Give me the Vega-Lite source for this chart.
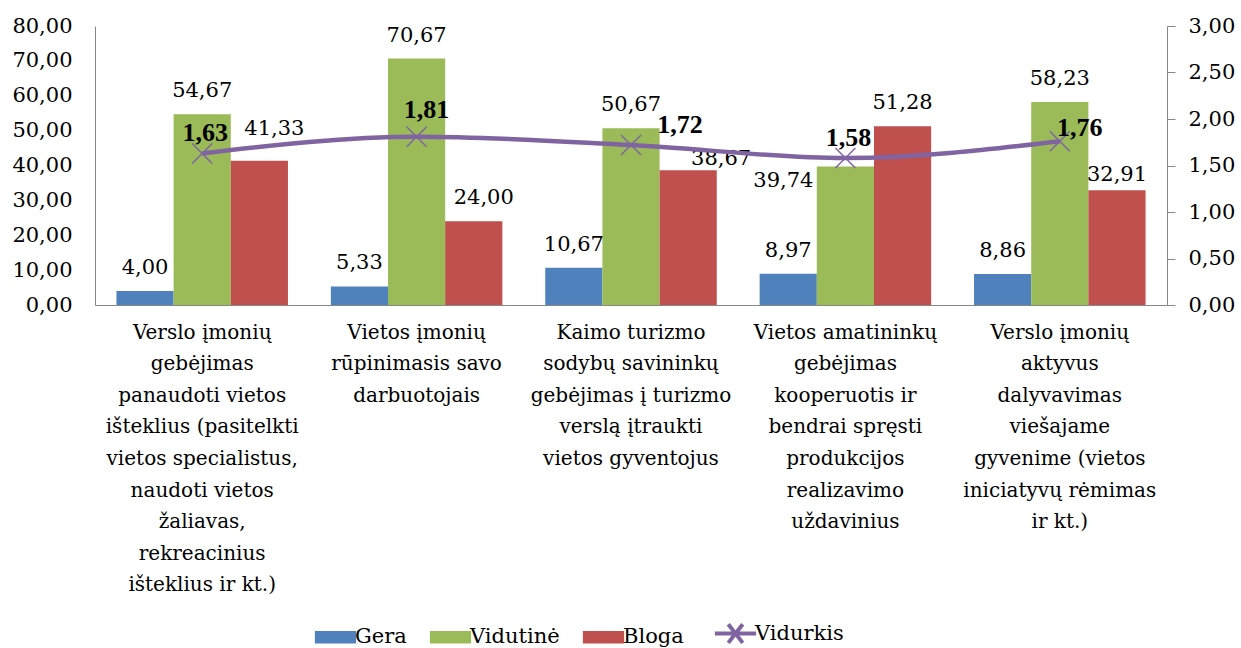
{
  "$schema": "https://vega.github.io/schema/vega-lite/v6.json",
  "width": 1072,
  "height": 279,
  "autosize": {"type": "none"},
  "padding": {"left": 95, "top": 26, "right": 74, "bottom": 343},
  "background": "white",
  "config": {
    "font": "DejaVu Serif",
    "view": {"stroke": null},
    "locale": {"number": {"decimal": ",", "thousands": " ", "grouping": [3], "currency": ["", " €"]}},
    "axis": {"labelFont": "DejaVu Serif", "labelFontSize": 21, "labelColor": "black", "domainColor": "#868686", "tickColor": "#868686", "grid": false, "title": null, "labelOverlap": false}
  },
  "datasets": {
    "bars": [
      {"category": "Verslo įmonių\ngebėjimas\npanaudoti vietos\ništeklius (pasitelkti\nvietos specialistus,\nnaudoti vietos\nžaliavas,\nrekreacinius\ništeklius ir kt.)", "series": "Gera", "value": 4.00},
      {"category": "Verslo įmonių\ngebėjimas\npanaudoti vietos\ništeklius (pasitelkti\nvietos specialistus,\nnaudoti vietos\nžaliavas,\nrekreacinius\ništeklius ir kt.)", "series": "Vidutinė", "value": 54.67},
      {"category": "Verslo įmonių\ngebėjimas\npanaudoti vietos\ništeklius (pasitelkti\nvietos specialistus,\nnaudoti vietos\nžaliavas,\nrekreacinius\ništeklius ir kt.)", "series": "Bloga", "value": 41.33},
      {"category": "Vietos įmonių\nrūpinimasis savo\ndarbuotojais", "series": "Gera", "value": 5.33},
      {"category": "Vietos įmonių\nrūpinimasis savo\ndarbuotojais", "series": "Vidutinė", "value": 70.67},
      {"category": "Vietos įmonių\nrūpinimasis savo\ndarbuotojais", "series": "Bloga", "value": 24.00},
      {"category": "Kaimo turizmo\nsodybų savininkų\ngebėjimas į turizmo\nverslą įtraukti\nvietos gyventojus", "series": "Gera", "value": 10.67},
      {"category": "Kaimo turizmo\nsodybų savininkų\ngebėjimas į turizmo\nverslą įtraukti\nvietos gyventojus", "series": "Vidutinė", "value": 50.67},
      {"category": "Kaimo turizmo\nsodybų savininkų\ngebėjimas į turizmo\nverslą įtraukti\nvietos gyventojus", "series": "Bloga", "value": 38.67},
      {"category": "Vietos amatininkų\ngebėjimas\nkooperuotis ir\nbendrai spręsti\nprodukcijos\nrealizavimo\nuždavinius", "series": "Gera", "value": 8.97},
      {"category": "Vietos amatininkų\ngebėjimas\nkooperuotis ir\nbendrai spręsti\nprodukcijos\nrealizavimo\nuždavinius", "series": "Vidutinė", "value": 39.74},
      {"category": "Vietos amatininkų\ngebėjimas\nkooperuotis ir\nbendrai spręsti\nprodukcijos\nrealizavimo\nuždavinius", "series": "Bloga", "value": 51.28},
      {"category": "Verslo įmonių\naktyvus\ndalyvavimas\nviešajame\ngyvenime (vietos\niniciatyvų rėmimas\nir kt.)", "series": "Gera", "value": 8.86},
      {"category": "Verslo įmonių\naktyvus\ndalyvavimas\nviešajame\ngyvenime (vietos\niniciatyvų rėmimas\nir kt.)", "series": "Vidutinė", "value": 58.23},
      {"category": "Verslo įmonių\naktyvus\ndalyvavimas\nviešajame\ngyvenime (vietos\niniciatyvų rėmimas\nir kt.)", "series": "Bloga", "value": 32.91}
    ],
    "avg": [
      {"category": "Verslo įmonių\ngebėjimas\npanaudoti vietos\ništeklius (pasitelkti\nvietos specialistus,\nnaudoti vietos\nžaliavas,\nrekreacinius\ništeklius ir kt.)", "series": "Vidurkis", "value": 1.63},
      {"category": "Vietos įmonių\nrūpinimasis savo\ndarbuotojais", "series": "Vidurkis", "value": 1.81},
      {"category": "Kaimo turizmo\nsodybų savininkų\ngebėjimas į turizmo\nverslą įtraukti\nvietos gyventojus", "series": "Vidurkis", "value": 1.72},
      {"category": "Vietos amatininkų\ngebėjimas\nkooperuotis ir\nbendrai spręsti\nprodukcijos\nrealizavimo\nuždavinius", "series": "Vidurkis", "value": 1.58},
      {"category": "Verslo įmonių\naktyvus\ndalyvavimas\nviešajame\ngyvenime (vietos\niniciatyvų rėmimas\nir kt.)", "series": "Vidurkis", "value": 1.76}
    ]
  },
  "layer": [
    {
      "data": {"name": "bars"},
      "layer": [
        {
          "mark": {"type": "bar"},
          "encoding": {
            "x": {"field": "category", "type": "nominal", "sort": null,
              "scale": {"paddingInner": 0.2, "paddingOuter": 0.1},
              "axis": {"labelAngle": 0, "ticks": false, "tickSize": 0, "labelPadding": 17, "labelLimit": 0, "labelFontSize": 20, "labelLineHeight": 31.6, "labelBaseline": "top", "labelFont": "DejaVu Serif", "labelExpr": "split(datum.label, '\\n')"}},
            "xOffset": {"field": "series", "type": "nominal", "sort": ["Gera", "Vidutinė", "Bloga"], "scale": {"domain": ["Gera", "Vidutinė", "Bloga"], "paddingInner": 0, "paddingOuter": 0}},
            "y": {"field": "value", "type": "quantitative",
              "scale": {"domain": [0, 80], "nice": false},
              "axis": {"orient": "left", "values": [0, 10, 20, 30, 40, 50, 60, 70, 80], "tickCount": 9, "format": ".2f", "ticks": false, "tickSize": 0, "labelPadding": 23, "labelFont": "DejaVu Serif", "labelOverlap": false}},
            "color": {"field": "series", "type": "nominal",
              "scale": {"domain": ["Gera", "Vidutinė", "Bloga", "Vidurkis"], "range": ["#4F81BD", "#9BBB59", "#C0504D", "#8064A2"]},
              "legend": {
                "orient": "none", "legendX": 230, "legendY": 597, "direction": "horizontal", "columns": 4, "title": null,
                "labelFont": "DejaVu Serif", "labelFontSize": 21, "labelColor": "black",
                "symbolSize": 1700, "labelOffset": 9, "columnPadding": 22,
                "symbolType": "M-1,-0.3H1V0.3H-1Z",
                "encode": {"symbols": {"update": {
                  "shape": {"signal": "datum.value === 'Vidurkis' ? 'M-1,0H1M-0.35,-0.45L0.35,0.45M-0.35,0.45L0.35,-0.45' : 'M-1,-0.3H1V0.3H-1Z'"},
                  "fill": {"signal": "datum.value === 'Vidurkis' ? 'transparent' : scale('color', datum.value)"},
                  "stroke": {"signal": "datum.value === 'Vidurkis' ? '#8064A2' : 'transparent'"},
                  "strokeWidth": {"signal": "datum.value === 'Vidurkis' ? 4 : 0"},
                  "opacity": {"value": 1}
                }}}
              }}
          }
        },
        {
          "mark": {"type": "text", "font": "DejaVu Serif", "fontSize": 21, "color": "black", "baseline": "middle",
            "dx": {"expr": "datum.value === 41.33 ? 15 : datum.value === 38.67 ? 33 : datum.value === 39.74 ? -62 : datum.value === 24 ? 10 : 0"},
            "dy": {"expr": "datum.value === 41.33 ? -32 : datum.value === 38.67 ? -11 : datum.value === 39.74 ? 15 : datum.value === 32.91 ? -15 : -23"}},
          "encoding": {
            "x": {"field": "category", "type": "nominal", "sort": null},
            "xOffset": {"field": "series", "type": "nominal", "sort": ["Gera", "Vidutinė", "Bloga"]},
            "y": {"field": "value", "type": "quantitative",
              "axis": {"orient": "left", "values": [0, 10, 20, 30, 40, 50, 60, 70, 80], "tickCount": 9, "format": ".2f", "ticks": false, "tickSize": 0, "labelPadding": 23, "labelFont": "DejaVu Serif", "labelOverlap": false}},
            "text": {"field": "value", "type": "quantitative", "format": ".2f"}
          }
        }
      ]
    },
    {
      "data": {"name": "avg"},
      "layer": [
        {
          "mark": {"type": "line", "strokeWidth": 4.5, "interpolate": "monotone"},
          "encoding": {
            "x": {"field": "category", "type": "nominal", "sort": null},
            "y": {"field": "value", "type": "quantitative",
              "scale": {"domain": [0, 3], "nice": false},
              "axis": {"orient": "right", "values": [0, 0.5, 1, 1.5, 2, 2.5, 3], "format": ".2f", "ticks": true, "tickSize": 8, "labelPadding": 13, "labelFont": "DejaVu Serif", "labelOverlap": false}},
            "color": {"field": "series", "type": "nominal"}
          }
        },
        {
          "mark": {"type": "point", "filled": false, "shape": "M-1,-1L1,1M-1,1L1,-1", "size": 400, "strokeWidth": 1.5, "opacity": 1},
          "encoding": {
            "x": {"field": "category", "type": "nominal", "sort": null},
            "y": {"field": "value", "type": "quantitative"},
            "color": {"field": "series", "type": "nominal"}
          }
        },
        {
          "mark": {"type": "text", "font": "Liberation Serif", "fontSize": 26, "fontWeight": "bold", "color": "black", "baseline": "middle",
            "dx": {"expr": "datum.value === 1.72 ? 49 : datum.value === 1.81 ? 10 : datum.value === 1.76 ? 20 : 3"},
            "dy": {"expr": "datum.value === 1.81 ? -27 : datum.value === 1.76 ? -13 : -20"}},
          "encoding": {
            "x": {"field": "category", "type": "nominal", "sort": null},
            "y": {"field": "value", "type": "quantitative"},
            "text": {"field": "value", "type": "quantitative", "format": ".2f"}
          }
        }
      ]
    }
  ],
  "resolve": {"scale": {"y": "independent"}}
}
